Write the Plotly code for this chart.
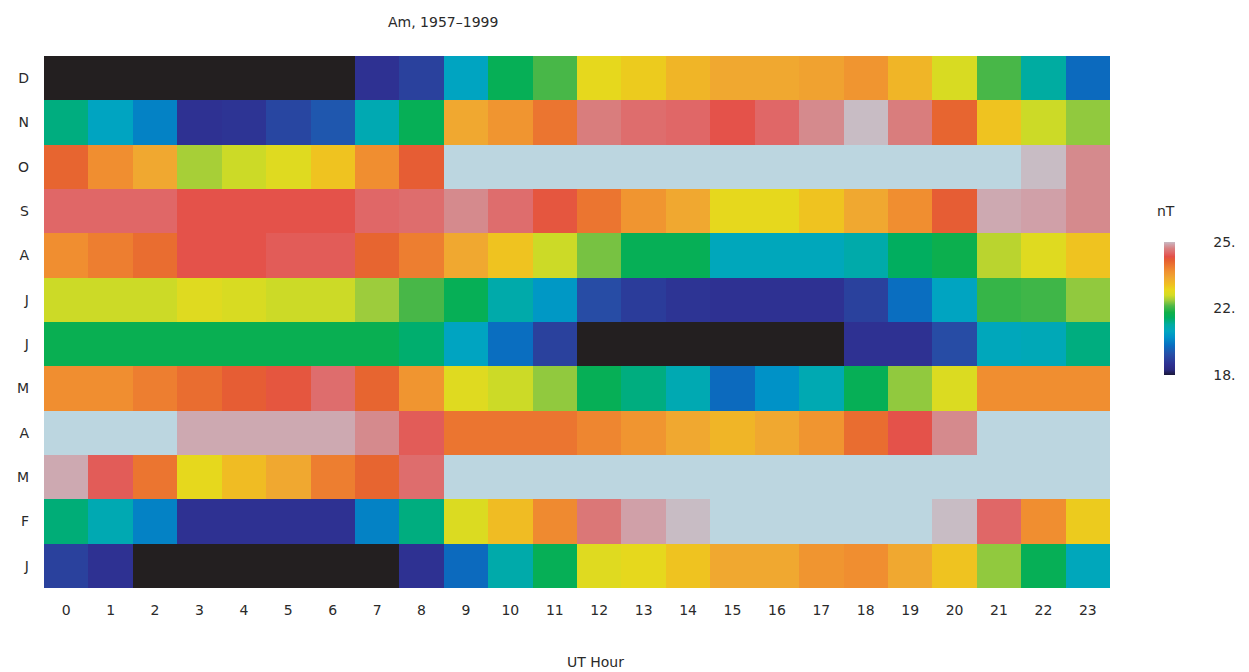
import numpy as np
import plotly.graph_objects as go

# Monthly / UT-hour table of the Am index (nT), 1957-1999
hours = list(range(24))
months = ["J", "F", "M", "A", "M", "J", "J", "A", "S", "O", "N", "D"]

jan = [19.2, 18.9, 17.5, 17.5, 17.5, 17.5, 17.5, 17.5, 18.9, 19.9, 21.0, 21.6,
       22.9, 23.0, 23.3, 23.7, 23.7, 24.0, 24.1, 23.7, 23.3, 22.4, 21.6, 20.8]
feb = [21.35, 20.9, 20.2, 18.9, 18.9, 18.9, 18.9, 20.2, 21.3, 22.85, 23.4, 24.15,
       25.25, 25.55, 25.7, 26.5, 26.5, 26.5, 26.5, 26.5, 25.7, 25.1, 24.1, 23.2]
mar = [25.6, 25.0, 24.4, 23.0, 23.4, 23.7, 24.3, 24.6, 25.15, 26.5, 26.5, 26.5,
       26.5, 26.5, 26.5, 26.5, 26.5, 26.5, 26.5, 26.5, 26.5, 26.5, 26.5, 26.5]
apr = [26.5, 26.5, 26.5, 25.6, 25.6, 25.6, 25.6, 25.4, 25.0, 24.4, 24.4, 24.4,
       24.2, 24.0, 23.7, 23.5, 23.7, 24.0, 24.5, 24.9, 25.4, 26.5, 26.5, 26.5]
may = [24.1, 24.1, 24.3, 24.5, 24.7, 24.8, 25.15, 24.6, 24.0, 22.9, 22.7, 22.4,
       21.6, 21.3, 20.9, 19.9, 20.4, 20.9, 21.6, 22.4, 22.85, 24.1, 24.1, 24.1]
jun = [21.65, 21.65, 21.65, 21.65, 21.65, 21.65, 21.65, 21.65, 21.4, 20.7, 19.95, 19.2,
       17.5, 17.5, 17.5, 17.5, 17.5, 17.5, 18.9, 18.9, 19.4, 20.8, 20.85, 21.3]
jul = [22.7, 22.7, 22.7, 22.9, 22.8, 22.7, 22.7, 22.45, 22.1, 21.6, 21.0, 20.5,
       19.4, 19.1, 18.95, 18.9, 18.9, 18.9, 19.2, 19.95, 20.7, 22.0, 22.05, 22.4]
aug = [24.1, 24.3, 24.5, 24.9, 24.9, 25.0, 25.0, 24.6, 24.3, 23.7, 23.3, 22.7,
       22.3, 21.6, 21.6, 20.8, 20.8, 20.8, 21.0, 21.5, 21.7, 22.6, 22.9, 23.3]
sep = [25.1, 25.1, 25.1, 24.9, 24.9, 24.9, 24.9, 25.1, 25.15, 25.4, 25.15, 24.8,
       24.4, 24.0, 23.7, 23.0, 23.0, 23.3, 23.7, 24.1, 24.7, 25.6, 25.55, 25.4]
oct_ = [24.6, 24.1, 23.7, 22.5, 22.7, 22.9, 23.3, 24.1, 24.7, 26.5, 26.5, 26.5,
        26.5, 26.5, 26.5, 26.5, 26.5, 26.5, 26.5, 26.5, 26.5, 26.5, 25.7, 25.4]
nov = [21.3, 20.7, 20.2, 18.9, 18.95, 19.3, 19.6, 20.9, 21.6, 23.7, 24.0, 24.4,
       25.3, 25.15, 25.1, 24.9, 25.1, 25.4, 25.7, 25.3, 24.6, 23.3, 22.7, 22.4]
dec = [17.5, 17.5, 17.5, 17.5, 17.5, 17.5, 17.5, 18.9, 19.2, 20.7, 21.6, 22.1,
       23.0, 23.2, 23.5, 23.7, 23.7, 23.8, 24.0, 23.5, 22.8, 22.1, 21.1, 19.9]

zmin, zmax = 18.3, 25.7
cbar_ticks = [18.3, 22.0, 25.7]
cbar_labels = ["18.", "22.", "25."]

z = np.array([jan, feb, mar, apr, may, jun, jul, aug, sep, oct_, nov, dec])
rows = list(range(len(months)))

in_range = np.where((z >= zmin) & (z <= zmax), z, np.nan)
below = np.where(z < zmin, 1.0, np.nan)
above = np.where(z > zmax, 1.0, np.nan)

rainbow = [
    [0.00, "#1a1838"], [0.04, "#2a2a80"], [0.08, "#2e3192"], [0.16, "#2650a8"],
    [0.22, "#0a6cc0"], [0.28, "#0090c8"], [0.33, "#00a6c0"], [0.38, "#00aca0"],
    [0.43, "#00ae60"], [0.47, "#10b048"], [0.52, "#50b848"], [0.56, "#9ccc3c"],
    [0.60, "#d4dc24"], [0.64, "#e8d81c"], [0.68, "#f0c020"], [0.73, "#f0a830"],
    [0.78, "#f09030"], [0.82, "#ec7830"], [0.86, "#e66030"], [0.89, "#e45048"],
    [0.92, "#e06868"], [0.95, "#d88080"], [0.98, "#d0a0a8"], [1.00, "#c8bcc4"],
]

font_family = "DejaVu Sans, Liberation Sans, sans-serif"
text_color = "#2a2a2a"
label_font = dict(family=font_family, size=14, color=text_color)

fig = go.Figure()

fig.add_trace(go.Heatmap(
    z=in_range, x=hours, y=rows,
    zmin=zmin, zmax=zmax, colorscale=rainbow,
    hoverongaps=False,
    colorbar=dict(
        thickness=11, thicknessmode="pixels",
        len=133, lenmode="pixels", ypad=0, xpad=0,
        x=1.0507, xanchor="left",
        y=(588 - 308.5) / 532, yanchor="middle",
        outlinewidth=0,
        tickmode="array", tickvals=cbar_ticks, ticktext=cbar_labels,
        ticks="outside", ticklen=36, tickcolor="rgba(0,0,0,0)",
        tickfont=label_font,
    ),
))

# cells under the scale minimum
fig.add_trace(go.Heatmap(
    z=below, x=hours, y=rows, zmin=0, zmax=1,
    colorscale=[[0, "#231f20"], [1, "#231f20"]],
    showscale=False, hoverongaps=False,
))

# cells over the scale maximum
fig.add_trace(go.Heatmap(
    z=above, x=hours, y=rows, zmin=0, zmax=1,
    colorscale=[[0, "#bcd6e0"], [1, "#bcd6e0"]],
    showscale=False, hoverongaps=False,
))

fig.update_xaxes(
    tickmode="array", tickvals=hours, ticktext=[str(h) for h in hours],
    range=[-0.5, 23.5], showgrid=False, zeroline=False, ticks="", ticklen=0,
    ticklabelstandoff=12, tickfont=label_font, automargin=False,
)
fig.update_yaxes(
    tickmode="array", tickvals=rows, ticktext=months,
    range=[-0.5, 11.5], showgrid=False, zeroline=False, ticks="",
    ticklabelstandoff=14, tickfont=label_font,
)

fig.add_annotation(
    text="Am, 1957\u20131999", xref="paper", yref="paper",
    x=(443 - 44) / 1066, y=1 + 34 / 532, xanchor="center", yanchor="middle",
    showarrow=False, font=label_font,
)
fig.add_annotation(
    text="UT Hour", xref="paper", yref="paper",
    x=(595 - 44) / 1066, y=-(662 - 588) / 532, xanchor="center", yanchor="middle",
    showarrow=False, font=label_font,
)
fig.add_annotation(
    text="nT", xref="paper", yref="paper",
    x=(1166 - 44) / 1066, y=(588 - 211) / 532, xanchor="center", yanchor="middle",
    showarrow=False, font=label_font,
)

fig.update_layout(
    width=1249, height=672,
    margin=dict(l=44, r=139, t=56, b=84),
    paper_bgcolor="white", plot_bgcolor="white",
    showlegend=False,
)

fig.write_html("out.html")
